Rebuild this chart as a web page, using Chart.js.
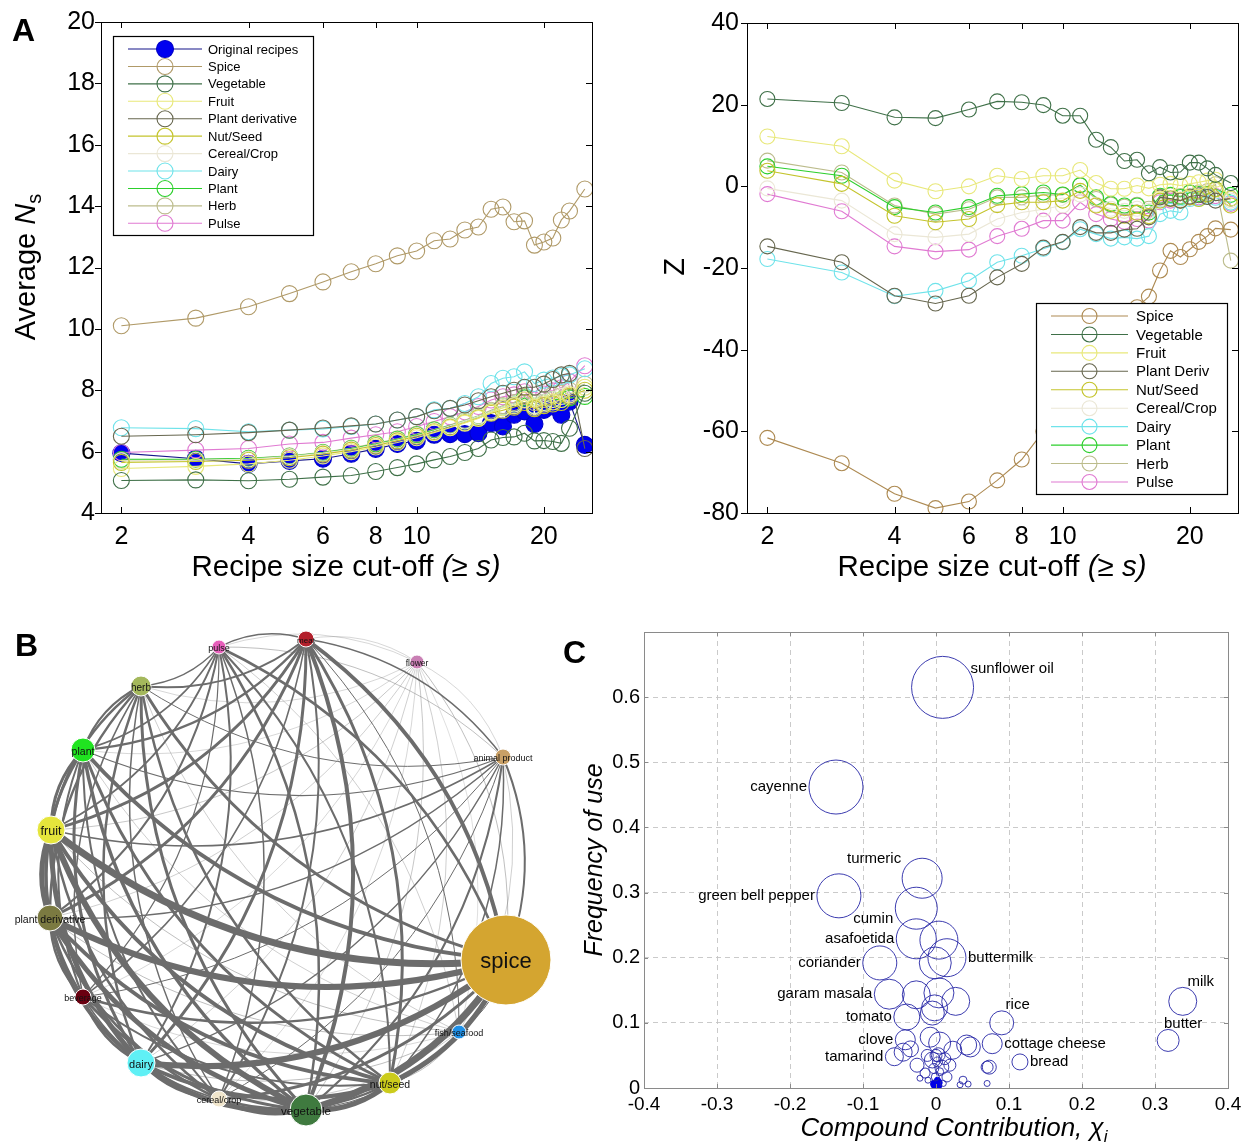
<!DOCTYPE html>
<html>
<head>
<meta charset="utf-8">
<script src="https://cdn.jsdelivr.net/npm/chart.js@4.4.1/dist/chart.umd.min.js"></script>
<style>
html, body { margin: 0; padding: 0; background: #fff; }
body { width: 1245px; height: 1147px; position: relative; overflow: hidden; }
canvas { position: absolute; }
.panel { position: absolute; font: bold 32px "Liberation Sans", Arial, sans-serif; line-height: 32px; color: #000; }
</style>
</head>
<body>
<canvas id="chartNs" width="610" height="590" style="left:0;top:0"></canvas>
<canvas id="chartZ" width="625" height="590" style="left:620px;top:0"></canvas>
<canvas id="chartNet" width="580" height="527" style="left:0;top:620px"></canvas>
<canvas id="chartChi" width="670" height="522" style="left:575px;top:625px"></canvas>
<div class="panel" style="left:12px;top:14px">A</div>
<div class="panel" style="left:15px;top:629px">B</div>
<div class="panel" style="left:563px;top:636px">C</div>
<script>
// ---------- panel A data ----------
const cutoffs = [2,3,4,5,6,7,8,9,10,11,12,13,14,15,16,17,18,19,20,21,22,23,25];
const cutoffTicks = [2,4,6,8,10,20];

const nsLabels = ['Original recipes','Spice','Vegetable','Fruit','Plant derivative','Nut/Seed','Cereal/Crop','Dairy','Plant','Herb','Pulse'];
const nsOriginal  = [5.95,5.77,5.6,5.7,5.77,5.93,6.09,6.25,6.35,6.55,6.57,6.57,6.6,6.93,6.82,7.2,7.31,6.9,7.36,7.47,7.2,7.63,6.22];
const nsSpice     = [10.1,10.35,10.72,11.15,11.53,11.86,12.12,12.38,12.54,12.87,12.93,13.22,13.32,13.9,13.97,13.49,13.52,12.73,12.83,12.96,13.55,13.84,14.56];
const nsVegetable = [5.06,5.08,5.05,5.1,5.17,5.22,5.35,5.48,5.6,5.73,5.84,5.97,6.1,6.38,6.46,6.48,6.6,6.35,6.36,6.33,6.27,6.76,7.9];
const nsFruit     = [5.45,5.52,5.6,5.72,5.86,6.0,6.15,6.3,6.45,6.62,6.78,6.93,7.08,7.28,7.42,7.5,7.68,7.45,7.55,7.62,7.7,7.85,8.1];
const nsPlantDer  = [6.5,6.55,6.62,6.7,6.77,6.84,6.9,7.03,7.14,7.33,7.41,7.52,7.66,7.79,7.9,8.0,8.1,8.1,8.2,8.35,8.5,8.55,6.1];
const nsNutSeed   = [5.65,5.68,5.72,5.8,5.92,6.05,6.2,6.35,6.5,6.65,6.8,6.95,7.1,7.25,7.35,7.45,7.6,7.4,7.5,7.55,7.6,7.8,8.0];
const nsCereal    = [5.7,5.72,5.76,5.84,5.95,6.08,6.22,6.38,6.52,6.68,6.84,7.0,7.15,7.3,7.45,7.55,7.7,7.5,7.6,7.7,7.8,7.9,8.1];
const nsDairy     = [6.78,6.75,6.65,6.7,6.74,6.82,6.9,7.03,7.14,7.36,7.41,7.57,7.79,8.22,8.39,8.44,8.6,8.22,8.33,8.4,8.45,8.5,8.7];
const nsPlant     = [5.75,5.75,5.78,5.85,5.97,6.1,6.25,6.4,6.55,6.7,6.85,7.0,7.15,7.3,7.45,7.55,7.75,7.5,7.6,7.7,7.7,7.75,7.8];
const nsHerb      = [5.72,5.74,5.78,5.86,5.98,6.12,6.27,6.42,6.57,6.72,6.87,7.02,7.17,7.35,7.5,7.6,7.8,7.6,7.7,7.85,7.9,8.0,8.2];
const nsPulse     = [5.97,6.05,6.1,6.25,6.3,6.44,6.55,6.65,6.82,6.98,7.14,7.3,7.47,7.68,7.79,7.85,7.95,7.68,7.88,7.98,8.08,8.28,8.8];

const zLabels = ['Spice','Vegetable','Fruit','Plant Deriv','Nut/Seed','Cereal/Crop','Dairy','Plant','Herb','Pulse'];
const zSpice     = [-61.6,-67.8,-75.3,-78.8,-77.2,-72,-66.9,-60,-53,-46,-40,-35,-32,-29.6,-27,-20.6,-15.8,-17.3,-15.4,-13.6,-12.2,-10.3,-10.6];
const zVegetable = [21.4,20.4,16.9,16.7,18.8,20.8,20.6,19.9,17.3,17.3,11.4,9.6,6.2,6.5,3.2,4.7,3.4,3.5,5.8,5.8,4.4,2.8,0.8];
const zFruit     = [12.2,9.8,1.4,-1.2,0,2.6,1.8,2.6,2.6,4.0,0.8,-0.6,-0.6,0.2,-0.5,0.4,0.6,0.2,0.6,1.0,1.4,1.6,-3];
const zPlantDer  = [-14.7,-18.6,-26.8,-28.7,-26.8,-22.3,-19,-15,-13.6,-10,-11.4,-11.4,-10.6,-10.4,-7.6,-2.7,-3,-3.5,-2.5,-2.2,-2.6,-3.5,-3];
const zNutSeed   = [3.8,0.6,-7.2,-8.8,-8,-4.6,-3.9,-3.9,-3.5,-1.1,-4.7,-6,-7.2,-6.5,-7.3,-3.5,-3.1,-3.5,-2.7,-3.1,-2,-0.7,-4.7];
const zCereal    = [-0.5,-3.5,-11.7,-12.5,-11.7,-8,-6.4,-5.6,-4.7,-2,-4.5,-5.5,-6,-5.5,-6,-3,-3,-3.2,-2.5,-2.2,-1.5,-1,-3.5];
const zDairy     = [-17.8,-21.1,-26.9,-25.6,-23.1,-18.6,-17,-15.3,-13.7,-10.5,-11.7,-12.8,-12.5,-12.8,-12.2,-6.8,-6,-6.4,-3.1,-3,-2.5,-2.8,-4];
const zPlant     = [4.9,2.6,-5.1,-6.4,-5.1,-2.3,-1.9,-1.5,-2,0.3,-2.7,-4.3,-4.7,-4.7,-6.4,-2.3,-2.1,-2.6,-1.5,-1.9,-1.9,-0.7,-2.1];
const zHerb      = [6.3,3.4,-4.7,-6.8,-5.6,-2.7,-2.7,-2.1,-2.1,0.2,-3.1,-4.5,-5,-4.5,-5.5,-2.5,-2.2,-2.4,-1.5,-1.5,-1.2,0.5,-18.2];
const zPulse     = [-1.9,-6.1,-14.7,-16,-15.5,-12.2,-10.4,-8.4,-8.4,-3.9,-6.8,-8,-8.7,-8,-8.4,-3.9,-3.5,-3.5,-2.7,-2.7,-2,-2.4,-4.3];

// ---------- panel B data ----------
const netNodes = ['pulse','meat','flower','animal product','spice','fish/seafood','nut/seed','vegetable','cereal/crop','dairy','beverage','plant derivative','fruit','plant','herb'];
const netX     = [219,306,417,503,506,459,390,306,219,141,83,50,51,83,141];
const netY     = [27,19,42,137,340,412,463,490,479,443,377,298,210,130,66];
const netSize  = [7,8,7,8,45,7,11,16,8,14,8,13,14,12,10];
// link weights, row i lists nodes i+1 .. end
const netLinks = [
  [1.5,0.5,0.8,2.5,0.6,2,2.5,1.5,2,1.2,2,2,1.5,1.2],
  [0.5,1.5,4,1,3,4,2,3,1.5,3,3,2.5,2],
  [0.5,0.8,0.4,0.6,0.7,0.5,0.6,0.5,0.6,0.7,0.5,0.5],
  [2,0.6,1.5,2,1,1.5,1,1.5,1.5,1.2,1],
  [1,5,7,3,6,2.5,6,7,4,3],
  [0.8,1,0.6,0.8,0.5,0.8,0.8,0.6,0.6],
  [5,2.5,4,2,4,4,3,2.5],
  [3,5,3,5,6,3.5,3],
  [2.5,1.5,2.5,2.5,2,1.5],
  [2.5,4,5,3,2.5],
  [2.5,2.5,2,1.5],
  [5,3,2.5],
  [3,2.5],
  [2]
];

// ---------- panel C data ----------
const namedIngr = ['sunflower oil','cayenne','turmeric','green bell pepper','cumin','asafoetida','buttermilk','coriander','garam masala','tomato','rice','milk','butter','clove','tamarind','cottage cheese','bread'];
const namedChi  = [0.009,-0.137,-0.019,-0.133,-0.027,-0.027,0.015,-0.077,-0.064,-0.04,0.09,0.338,0.318,-0.042,-0.057,0.077,0.115];
const namedFreq = [0.615,0.462,0.322,0.295,0.276,0.229,0.2,0.192,0.144,0.109,0.1,0.133,0.073,0.074,0.048,0.068,0.04];
const namedWt   = [31,27,20,22,21,20,19,17,15,13,12,14,11,10,9,10,8];
const otherChi  = [0.004,-0.001,-0.027,0.004,0.027,-0.002,-0.005,-0.008,0.005,0.042,0.047,0.023,-0.045,-0.026,-0.005,0.003,0.008,0.019,0.07,-0.015,0.015,0.037,0.033,0.07,-0.001,-0.011,0.01,0.044,-0.022,0.0,0.002,-0.003,0.005,0.012,-0.035,-0.012,0.073];
const otherFreq = [0.227,0.192,0.143,0.146,0.133,0.123,0.115,0.078,0.069,0.066,0.063,0.058,0.055,0.035,0.043,0.051,0.032,0.035,0.032,0.023,0.017,0.012,0.005,0.007,0.017,0.012,0.007,0.006,0.015,0.05,0.04,0.03,0.025,0.045,0.06,0.05,0.032];
const otherWt   = [19,16,14,15,14,13,12,10,11,10,10,9,9,7,8,7,7,6,6,5,5,4,3,3,4,3,3,3,3,6,5,5,4,6,8,6,7];
const coreChi   = [0.001,0.003,-0.002,0.002];
const coreFreq  = [0.004,0.008,0.006,0.012];
const coreWt    = [5,4,4,3];

// ---------- helpers ----------
const FONT = '"Liberation Sans", Arial, sans-serif';
Chart.defaults.font.family = FONT;
Chart.defaults.color = '#000';

function drawRich(ctx, segs, x, y, rot) {
  ctx.save();
  ctx.translate(x, y);
  if (rot) ctx.rotate(rot);
  let w = 0;
  segs.forEach(s => { ctx.font = s.font; w += ctx.measureText(s.text).width; });
  let cx = -w / 2;
  ctx.textBaseline = 'middle';
  ctx.textAlign = 'left';
  ctx.fillStyle = '#000';
  segs.forEach(s => {
    ctx.font = s.font;
    ctx.fillText(s.text, cx, s.dy || 0);
    cx += ctx.measureText(s.text).width;
  });
  ctx.restore();
}

const titlesPlugin = {
  id: 'titles',
  afterDraw(chart, args, opts) {
    (opts.items || []).forEach(it => drawRich(chart.ctx, it.segs, it.x, it.y, it.rot));
  }
};

const framePlugin = {
  id: 'frame',
  afterDatasetsDraw(chart, args, opts) {
    if (!opts.color) return;
    const a = chart.chartArea, ctx = chart.ctx;
    ctx.save();
    ctx.strokeStyle = opts.color;
    ctx.lineWidth = 1;
    const len = opts.tick || 0;
    ctx.beginPath();
    chart.scales.x.ticks.forEach(t => {
      const p = Math.round(chart.scales.x.getPixelForValue(t.value)) + 0.5;
      ctx.moveTo(p, a.bottom); ctx.lineTo(p, a.bottom - len);
      ctx.moveTo(p, a.top); ctx.lineTo(p, a.top + len);
    });
    chart.scales.y.ticks.forEach(t => {
      const p = Math.round(chart.scales.y.getPixelForValue(t.value)) + 0.5;
      ctx.moveTo(a.left - (opts.outLeft ? len : 0), p); ctx.lineTo(a.left + (opts.outLeft ? 0 : len), p);
      ctx.moveTo(a.right, p); ctx.lineTo(a.right - len, p);
    });
    ctx.stroke();
    ctx.strokeRect(Math.round(a.left) + 0.5, Math.round(a.top) + 0.5, Math.round(a.right - a.left), Math.round(a.bottom - a.top));
    ctx.restore();
  }
};

const boxLegendPlugin = {
  id: 'boxLegend',
  afterDraw(chart, args, o) {
    if (!o.w) return;
    const ctx = chart.ctx;
    ctx.save();
    ctx.fillStyle = '#fff';
    ctx.fillRect(o.x, o.y, o.w, o.h);
    ctx.strokeStyle = '#000';
    ctx.lineWidth = 1.2;
    ctx.strokeRect(o.x + 0.5, o.y + 0.5, o.w, o.h);
    ctx.font = o.font;
    ctx.textBaseline = 'middle';
    ctx.textAlign = 'left';
    chart.data.datasets.forEach((ds, i) => {
      const y = o.row0 + i * o.rowH;
      ctx.strokeStyle = ds.borderColor;
      ctx.lineWidth = ds.borderWidth;
      ctx.beginPath(); ctx.moveTo(o.l0, y); ctx.lineTo(o.l1, y); ctx.stroke();
      ctx.beginPath();
      ctx.arc((o.l0 + o.l1) / 2, y, ds.pointRadius, 0, Math.PI * 2);
      if (ds.pointBackgroundColor !== 'rgba(0,0,0,0)') { ctx.fillStyle = ds.pointBackgroundColor; ctx.fill(); }
      ctx.strokeStyle = ds.pointBorderColor;
      ctx.lineWidth = ds.pointBorderWidth;
      ctx.stroke();
      ctx.fillStyle = '#000';
      ctx.fillText(ds.label, o.tx, y + 1);
    });
    ctx.restore();
  }
};

function lineSet(label, values, color, radius, filled) {
  return {
    label: label,
    data: cutoffs.map((s, i) => ({ x: s, y: values[i] })),
    borderColor: color,
    borderWidth: 1.1,
    pointRadius: radius,
    pointHoverRadius: radius,
    pointBorderWidth: 1.1,
    pointBorderColor: filled ? '#0000c8' : color,
    pointBackgroundColor: filled ? '#0000f0' : 'rgba(0,0,0,0)',
    tension: 0,
    order: filled ? 1 : 0
  };
}

function logAxis() {
  return {
    type: 'logarithmic', min: 1.79, max: 26,
    afterBuildTicks(s) { s.ticks = cutoffTicks.map(v => ({ value: v })); },
    afterFit(s) { s.height = 77; },
    grid: { display: false, drawTicks: false },
    border: { display: false },
    ticks: { autoSkip: false, maxRotation: 0, padding: 9, font: { size: 25 }, callback: v => String(v) }
  };
}

const nsColors = ['#15158a','#b09a68','#3f7048','#e8e87a','#66664e','#c4c42c','#ebe7d6','#6fe3ea','#2ccf2c','#bcbc8c','#e07ad2'];
const zColors  = ['#ad8a52','#3f7048','#e8e87a','#66664e','#c4c42c','#ebe7d6','#6fe3ea','#2ccf2c','#bcbc8c','#e07ad2'];

// ---------- A left: average N_s ----------
const nsSeries = [nsOriginal, nsSpice, nsVegetable, nsFruit, nsPlantDer, nsNutSeed, nsCereal, nsDairy, nsPlant, nsHerb, nsPulse];
new Chart(document.getElementById('chartNs'), {
  type: 'line',
  data: { datasets: nsSeries.map((v, i) => lineSet(nsLabels[i], v, nsColors[i], i === 0 ? 8.5 : 8, i === 0)) },
  options: {
    responsive: false, animation: false, devicePixelRatio: 1, events: [],
    layout: { autoPadding: false, padding: { left: 0, right: 18, top: 22, bottom: 0 } },
    scales: {
      x: logAxis(),
      y: {
        min: 4, max: 20,
        afterFit(s) { s.width = 101; },
        grid: { display: false, drawTicks: false }, border: { display: false },
        ticks: { stepSize: 2, padding: 6, font: { size: 25 } }
      }
    },
    plugins: {
      legend: { display: false }, tooltip: { enabled: false },
      frame: { color: '#000', tick: 6, outLeft: true },
      boxLegend: { x: 113, y: 36, w: 200, h: 199, row0: 49, rowH: 17.43, l0: 128, l1: 202, tx: 208, font: '13px ' + FONT },
      titles: { items: [
        { x: 346, y: 568, segs: [{ text: 'Recipe size cut-off ', font: '29.5px ' + FONT }, { text: '(\u2265 s)', font: 'italic 29.5px ' + FONT }] },
        { x: 27, y: 267, rot: -Math.PI / 2, segs: [{ text: 'Average ', font: '29px ' + FONT }, { text: 'N', font: 'italic 29px ' + FONT }, { text: 's', font: '20px ' + FONT, dy: 8 }] }
      ] }
    }
  },
  plugins: [framePlugin, boxLegendPlugin, titlesPlugin]
});

// ---------- A right: Z score ----------
const zSeries = [zSpice, zVegetable, zFruit, zPlantDer, zNutSeed, zCereal, zDairy, zPlant, zHerb, zPulse];
new Chart(document.getElementById('chartZ'), {
  type: 'line',
  data: { datasets: zSeries.map((v, i) => lineSet(zLabels[i], v, zColors[i], 7.5, false)) },
  options: {
    responsive: false, animation: false, devicePixelRatio: 1, events: [],
    layout: { autoPadding: false, padding: { left: 0, right: 7, top: 22, bottom: 0 } },
    scales: {
      x: logAxis(),
      y: {
        min: -80, max: 40,
        afterFit(s) { s.width = 127; },
        grid: { display: false, drawTicks: false }, border: { display: false },
        ticks: { stepSize: 20, padding: 8, font: { size: 25 } }
      }
    },
    plugins: {
      legend: { display: false }, tooltip: { enabled: false },
      frame: { color: '#000', tick: 6, outLeft: true },
      boxLegend: { x: 416, y: 303, w: 191, h: 191, row0: 316, rowH: 18.44, l0: 431, l1: 508, tx: 516, font: '15px ' + FONT },
      titles: { items: [
        { x: 372, y: 568, segs: [{ text: 'Recipe size cut-off ', font: '29.5px ' + FONT }, { text: '(\u2265 s)', font: 'italic 29.5px ' + FONT }] },
        { x: 56, y: 267, rot: -Math.PI / 2, segs: [{ text: 'Z', font: '29px ' + FONT }] }
      ] }
    }
  },
  plugins: [framePlugin, boxLegendPlugin, titlesPlugin]
});

// ---------- B: network ----------
const netColors = ['#e75fbb','#b3202c','#c97fb4','#c9a066','#d4a530','#1e90e8','#cccc1c','#3f7a3f','#f1e6cc','#5ff0f5','#6a0010','#7b7a41','#e5e53c','#20e420','#a4b85c'];
const netFont = [9,8,8.5,9,22,9,10.5,11.5,9,11,9,10.5,12.5,10.5,10];

const edgesPlugin = {
  id: 'edges',
  beforeDatasetsDraw(chart) {
    const ctx = chart.ctx, sx = chart.scales.x, sy = chart.scales.y;
    const list = [];
    netLinks.forEach((row, i) => row.forEach((w, k) => list.push([i, i + 1 + k, w])));
    list.sort((a, b) => a[2] - b[2]);
    ctx.save();
    ctx.lineCap = 'round';
    list.forEach(([i, j, w]) => {
      const x1 = sx.getPixelForValue(netX[i]), y1 = sy.getPixelForValue(netY[i]);
      const x2 = sx.getPixelForValue(netX[j]), y2 = sy.getPixelForValue(netY[j]);
      const dx = x2 - x1, dy = y2 - y1;
      const cx = (x1 + x2) / 2 + 0.2 * dy, cy = (y1 + y2) / 2 - 0.2 * dx;
      ctx.strokeStyle = w < 1 ? 'rgba(120,120,120,0.6)' : '#6c6c6c';
      ctx.lineWidth = w;
      ctx.beginPath();
      ctx.moveTo(x1, y1);
      ctx.quadraticCurveTo(cx, cy, x2, y2);
      ctx.stroke();
    });
    ctx.restore();
  },
  afterDatasetsDraw(chart) {
    const ctx = chart.ctx, sx = chart.scales.x, sy = chart.scales.y;
    ctx.save();
    ctx.textAlign = 'center';
    ctx.textBaseline = 'middle';
    ctx.fillStyle = '#111';
    netNodes.forEach((n, i) => {
      ctx.font = netFont[i] + 'px ' + FONT;
      ctx.fillText(n, sx.getPixelForValue(netX[i]), sy.getPixelForValue(netY[i]) + 2);
    });
    ctx.restore();
  }
};

new Chart(document.getElementById('chartNet'), {
  type: 'bubble',
  data: { datasets: [{
    label: 'ingredient categories',
    data: netNodes.map((n, i) => ({ x: netX[i], y: netY[i], r: netSize[i] })),
    backgroundColor: netColors,
    borderColor: '#ffffff',
    borderWidth: 1,
    hoverRadius: 0,
    clip: false
  }] },
  options: {
    responsive: false, animation: false, devicePixelRatio: 1, events: [],
    layout: { autoPadding: false, padding: 0 },
    scales: {
      x: { display: false, min: 0, max: 580 },
      y: { display: false, min: 0, max: 527, reverse: true }
    },
    plugins: { legend: { display: false }, tooltip: { enabled: false } }
  },
  plugins: [edgesPlugin]
});

// ---------- C: compound contribution ----------
const labelPlace = {
  'sunflower oil': 'ne', 'cayenne': 'l', 'turmeric': 'nw', 'green bell pepper': 'l', 'cumin': 'sw',
  'asafoetida': 'l', 'buttermilk': 'r', 'coriander': 'l', 'garam masala': 'l', 'tomato': 'l',
  'rice': 'n', 'milk': 'n', 'butter': 'n', 'clove': 'l', 'tamarind': 'l', 'cottage cheese': 'r', 'bread': 'r'
};
const bubbleLabels = {
  id: 'bubbleLabels',
  afterDatasetsDraw(chart) {
    const ctx = chart.ctx;
    const meta = chart.getDatasetMeta(0);
    ctx.save();
    ctx.font = '15px ' + FONT;
    ctx.fillStyle = '#000';
    ctx.textBaseline = 'middle';
    meta.data.forEach((el, i) => {
      const r = namedWt[i], name = namedIngr[i], p = labelPlace[name];
      let x = el.x, y = el.y;
      if (p === 'l') { ctx.textAlign = 'right'; x -= r + 2; }
      else if (p === 'r') { ctx.textAlign = 'left'; x += r + 2; }
      else if (p === 'ne') { ctx.textAlign = 'left'; x += r * 0.9; y -= r * 0.6; }
      else if (p === 'nw') { ctx.textAlign = 'right'; x -= r + 1; y -= r * 0.95; }
      else if (p === 'sw') { ctx.textAlign = 'right'; x -= r + 2; y += r * 0.5; }
      else { ctx.textAlign = 'center'; x += r + 4; y -= r + 6; }
      ctx.fillText(name, x, y);
    });
    ctx.restore();
  }
};

const fmt1 = v => (Math.abs(v) < 1e-9 ? '0' : (Math.round(v * 10) / 10).toString());
new Chart(document.getElementById('chartChi'), {
  type: 'bubble',
  data: { datasets: [
    { label: 'named', data: namedIngr.map((n, i) => ({ x: namedChi[i], y: namedFreq[i], r: namedWt[i] })),
      backgroundColor: 'rgba(0,0,0,0)', borderColor: '#2626a6', borderWidth: 0.9, hoverRadius: 0 },
    { label: 'other', data: otherChi.map((c, i) => ({ x: c, y: otherFreq[i], r: otherWt[i] })),
      backgroundColor: 'rgba(0,0,0,0)', borderColor: '#2626a6', borderWidth: 0.9, hoverRadius: 0 },
    { label: 'core', data: coreChi.map((c, i) => ({ x: c, y: coreFreq[i], r: coreWt[i] })),
      backgroundColor: '#0000e6', borderColor: '#0000e6', borderWidth: 1, hoverRadius: 0 }
  ] },
  options: {
    responsive: false, animation: false, devicePixelRatio: 1, events: [],
    layout: { autoPadding: false, padding: { left: 0, right: 17, top: 7, bottom: 0 } },
    scales: {
      x: {
        min: -0.4, max: 0.4,
        afterFit(s) { s.height = 59; s.paddingLeft = 0; s.paddingRight = 0; },
        grid: { color: '#c4c4c4', lineWidth: 0.9, drawTicks: false },
        border: { display: false, dash: [5, 4] },
        ticks: { stepSize: 0.1, padding: 5, font: { size: 19 }, callback: fmt1 }
      },
      y: {
        min: 0, max: 0.7,
        afterFit(s) { s.width = 69; s.paddingTop = 0; s.paddingBottom = 0; },
        grid: { color: '#c4c4c4', lineWidth: 0.9, drawTicks: false },
        border: { display: false, dash: [5, 4] },
        ticks: { stepSize: 0.1, padding: 4, font: { size: 20 }, callback: v => (v > 0.65 ? '' : fmt1(v)) }
      }
    },
    plugins: {
      legend: { display: false }, tooltip: { enabled: false },
      frame: { color: '#8a8a8a', tick: 4 },
      titles: { items: [
        { x: 379, y: 504, segs: [{ text: 'Compound Contribution, \u03c7', font: 'italic 26px ' + FONT }, { text: 'i', font: 'italic 17px ' + FONT, dy: 8 }] },
        { x: 20, y: 235, rot: -Math.PI / 2, segs: [{ text: 'Frequency of use', font: 'italic 25px ' + FONT }] }
      ] }
    }
  },
  plugins: [framePlugin, bubbleLabels, titlesPlugin]
});
</script>
</body>
</html>
